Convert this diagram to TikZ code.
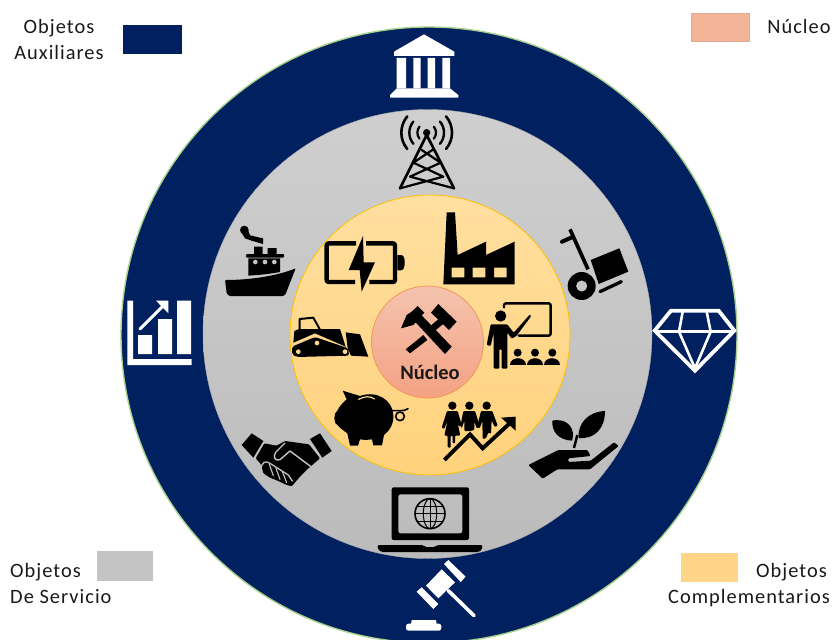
\documentclass[tikz,border=0pt]{standalone}
\usepackage{fontspec}
\setmainfont{Carlito}
\newfontfamily\legendfont[LetterSpace=5]{Carlito}
\definecolor{navyring}{HTML}{002060}
\definecolor{ringedge}{HTML}{A9D18E}
\definecolor{graytop}{HTML}{CFCFCF}
\definecolor{graybot}{HTML}{BBBBBB}
\definecolor{graymid}{HTML}{C4C4C4}
\definecolor{ambertop}{HTML}{FFDFA0}
\definecolor{amberbot}{HTML}{FFD27C}
\definecolor{ambermid}{HTML}{FFD88C}
\definecolor{amberedge}{HTML}{FFC000}
\definecolor{coretop}{HTML}{F4C3AE}
\definecolor{corebot}{HTML}{F4A283}
\definecolor{coremid}{HTML}{F4B196}
\definecolor{coreedge}{HTML}{ED7D31}
\definecolor{swpeach}{HTML}{F4B498}
\definecolor{swgray}{HTML}{C4C4C4}
\definecolor{swamber}{HTML}{FFD587}
\tikzset{
  legendtext/.style={font=\legendfont\fontsize{20.4}{26}\selectfont,text=black!90,inner sep=0pt},
  zoomA/.style={shift={(280,190)},scale=1/3},
  zoomB/.style={shift={(120,20)},scale=1/3},
  zoomC/.style={shift={(500,210)},scale=1/3},
  zoomD/.style={shift={(220,420)},scale=1/3},
  zoomE/.style={shift={(110,210)},scale=1/3},
  zoomDozer/.style={shift={(285,305)},scale=1/3},
  zoomShake/.style={shift={(235,425)},scale=1/3},
  zoomCrowd/.style={shift={(435,395)},scale=1/3},
  zoomTools/.style={shift={(395,300)},scale=1/3},
  inkline/.style={draw=black,line cap=round,line join=round},
  paperline/.style={draw=white,line join=miter},
}
\begin{document}
\begin{tikzpicture}[x=1pt,y=-1pt]
\useasboundingbox (0,0) rectangle (834,639);
% rings
\draw[draw=ringedge,fill=navyring,line width=1.4pt] (429,335) circle[radius=308];
\shade[top color=graytop,bottom color=graybot] (427.5,334) circle[radius=224.5];
\draw[draw=gray!70,line width=0.4pt] (427.5,334) circle[radius=224.5];
\draw[draw=amberedge,line width=0.8pt,top color=ambertop,bottom color=amberbot] (430,335) circle[radius=140];
\draw[draw=coreedge!80,line width=0.8pt,top color=coretop,bottom color=corebot] (427.5,342) circle[radius=56];
% legend swatches
\fill[navyring] (123,25) rectangle (182,54);
\draw[draw=swpeach!90!black!90,line width=0.4pt,fill=swpeach] (691,13) rectangle (749,41);
\fill[swgray] (97,551) rectangle (153,581);
\fill[swamber] (681,553) rectangle (738,582);
% legend text
\node[legendtext,align=center,anchor=north] (legaux) at (59,19) {Objetos\\Auxiliares};
\node[legendtext,anchor=north] (legnuc) at (799,19) {Núcleo};
\node[legendtext,align=left,anchor=north west] (legserv) at (10,563) {Objetos\\De Servicio};
\node[legendtext,align=right,anchor=north east] (legcomp) at (830,563) {Objetos\hspace*{3pt}\\Complementarios};
\node[font=\bfseries\fontsize{20.5}{22}\selectfont,text=black!90,inner sep=0pt] (coretext) at (430,372) {Núcleo};
% ---------- inner icons
\begin{scope}[zoomA]
 % battery
 \draw[inkline,line width=4.4pt,line cap=butt,rounded corners=2pt] (228,160)--(140,160)--(140,276)--(225,276);
 \draw[inkline,line width=4.4pt,line cap=butt,rounded corners=2pt] (258,160)--(345,160)--(345,276)--(268,276);
 \fill[black] (352,195)--(362,195) .. controls (372,195) and (374,205) .. (374,217) .. controls (374,230) and (372,241) .. (362,241) -- (352,241)--cycle;
 \fill[black] (249,138)--(206,240)--(239,240)--(245,305)--(285,217)--(251,217)--cycle;
 % factory
 \fill[black,even odd rule] (500,67)--(525,67)--(533,195)--(618,155)--(618,195)--(704,155)--(704,283)--(490,283)--cycle
   (515,233) rectangle (553,262) (578,233) rectangle (616,262) (642,233) rectangle (680,262);
 % teacher
 \draw[inkline,line width=2.4pt,rounded corners=2pt] (672,352)--(672,340)--(812,340)--(812,437)--(716,437);
 \fill[black] (662,378) circle[radius=17];
 \fill[black,rounded corners=1pt] (632,403)--(682,403)--(701,428)--(750,373)--(754,378)--(709,438)--(695,446)--(682,428)--(682,536)--(665,536)--(665,478)--(658,478)--(658,536)--(641,536)--(641,428)--(632,468)--(620,465)--cycle;
 \foreach \hx in {713,765,817}{
  \fill[black] (\hx,488) circle[radius=12];
  \fill[black] (\hx-24,526) .. controls (\hx-24,498) and (\hx+24,498) .. (\hx+24,526) -- cycle;
 }
 % piggy bank
 \fill[black] (188,602)--(240,618) .. controls (290,600) and (338,630) .. (340,675) .. controls (342,705) and (325,725) .. (312,735) -- (306,766)--(280,766)--(276,748) .. controls (262,750) and (250,750) .. (240,748) -- (234,767)--(210,767)--(202,730) .. controls (188,720) and (178,712) .. (172,705) .. controls (160,702) and (160,668) .. (172,662) .. controls (178,648) and (192,635) .. (200,628) -- cycle;
 \draw[draw=ambermid,line width=1.2pt,line cap=round] (236,628) .. controls (255,618) and (270,618) .. (284,627);
 \draw[inkline,line width=1.6pt] (335,662)--(360,662) .. controls (372,662) and (378,660) .. (384,656);
 \draw[inkline,line width=1.6pt] (360,679) circle[radius=13];
\end{scope}
% hammers
\begin{scope}[zoomTools]
 \fill[black] (32,148)--(45,160)--(97,120)--(85,105)--cycle;
 \fill[black] (106,78)--(120,92)--(147,70)--(132,56)--cycle;
 \fill[black] (60,65)--(80,46)--(170,140)--(150,162)--cycle;
 \fill[black] (18,85)--(35,45)--(50,35)--(68,18)--(88,38)--(55,75)--cycle;
 \fill[black] (108,38)--(130,12)--(185,65)--(162,90)--cycle;
\end{scope}
% bulldozer
\begin{scope}[zoomDozer]
 \fill[black] (28,78)--(42,72)--(165,72)--(182,125)--(90,85)--(25,113)--cycle;
 \draw[inkline,line width=2pt] (44,74)--(44,42)--(85,38)--(105,74);
 \fill[black] (182,82)--(225,88)--(250,155)--(198,152)--(188,130)--cycle;
 \fill[black,rounded corners=2pt] (21,125)--(90,96)--(190,130)--(192,152)--(35,156)--(21,148)--cycle;
 \fill[ambermid] (40,140) circle[radius=7] (96,114) circle[radius=7] (180,140) circle[radius=7];
\end{scope}
% people
\begin{scope}[zoomCrowd]
 \fill[black] (52,32) circle[radius=12.5] (103,32) circle[radius=12.5] (155,32) circle[radius=12.5];
 \fill[black,rounded corners=1pt] (36,48)--(68,48)--(80,90)--(72,95)--(66,75)--(76,122)--(60,122)--(60,145)--(53,145)--(53,122)--(47,122)--(47,158)--(38,158)--(38,122)--(28,122)--(38,75)--(28,102)--(20,98)--cycle;
 \fill[black,rounded corners=1pt] (85,48)--(120,48)--(135,95)--(125,100)--(118,80)--(118,105)--(105,108)--(88,108)--(88,78)--(80,100)--(76,95)--cycle;
 \fill[black,rounded corners=1pt] (138,48)--(172,48)--(188,92)--(179,96)--(170,76)--(168,117)--(160,112)--(153,130)--(143,132)--(142,78)--(134,100)--(126,96)--cycle;
 \draw[draw=black,line width=3.9pt,line join=miter] (28,195)--(105,118)--(143,160)--(222,87);
 \fill[black] (198,68)--(242,65)--(242,107)--cycle;
\end{scope}
% ---------- top icons
\begin{scope}[zoomB]
 \fill[white] (912,43)--(822,95)--(822,108)--(1003,108)--(1003,95)--cycle;
 \fill[white] (830,114) rectangle (858,205) (880,114) rectangle (902,205) (923,114) rectangle (945,205) (967,114) rectangle (990,205);
 \fill[white] (830,205)--(990,205)--(1015,225)--(1015,233)--(810,233)--(810,225)--cycle;
 % tower
 \fill[black] (920,338) circle[radius=11];
 \draw[inkline,line width=2.7pt] (840,505)--(920,345)--(1002,505);
 \draw[inkline,line width=2.2pt] (905,390)--(962,428)--(870,470)--(1002,505) (937,390)--(880,428)--(970,470)--(840,505);
 \foreach \rr/\lw in {28/2.2,52/2.4,76/2.6}{
  \draw[inkline,line width=\lw pt] (920,338) ++(140:\rr) arc (140:220:\rr);
  \draw[inkline,line width=\lw pt] (920,338) ++(-40:\rr) arc (-40:40:\rr);
 }
\end{scope}
% ---------- right icons
\begin{scope}[zoomC]
 % trolley
 \draw[inkline,line width=4pt] (186,95)--(216,82);
 \draw[inkline,line width=3.7pt,line cap=butt] (210,58)--(264,178);
 \fill[black] (272,150)--(358,115)--(385,185)--(296,222)--cycle;
 \fill[black,even odd rule] (245,228) circle[radius=42] (245,228) circle[radius=17];
 \draw[inkline,line width=3.3pt] (300,245)--(364,215);
 % diamond
 \draw[paperline,line width=3.8pt] (513,302)--(656,302)--(703,362)--(585,482)--(464,362)--cycle;
 \draw[paperline,line width=2.6pt] (464,365)--(703,365);
 \draw[paperline,line width=2.6pt] (548,305)--(537,365)--(585,475)--(632,365)--(620,305);
 % hand and plant
 \fill[black,rounded corners=1pt] (85,765)--(175,720)--(262,720)--(272,738)--(205,745)--(205,756)--(272,752)--(342,697)--(356,708)--(270,778)--(172,778)--(128,806)--cycle;
 \fill[black] (157,632) .. controls (205,622) and (228,660) .. (216,692) .. controls (175,690) and (155,665) .. cycle;
 \fill[black] (315,603) .. controls (265,605) and (232,640) .. (236,684) .. controls (285,688) and (315,655) .. cycle;
 \draw[inkline,line width=2.5pt,line cap=butt] (232,675)--(222,714);
\end{scope}
% handshake
\begin{scope}[zoomShake]
 \fill[black] (20,60)--(50,25)--(85,48)--(55,98)--cycle;
 \fill[black] (225,42)--(255,25)--(290,78)--(262,98)--cycle;
 \fill[black,rounded corners=1pt] (62,100)--(88,55)--(125,62)--(150,48)--(222,58)--(255,100)--(220,130)--(195,155)--(170,184)--(150,178)--(130,168)--(105,158)--(85,145)--(78,118)--cycle;
 \draw[draw=graymid,line width=1.4pt,line join=round,line cap=round] (228,125)--(165,78)--(135,104) .. controls (122,110) and (112,96) .. (122,82)--(150,54);
 \draw[draw=graymid,line width=1.3pt,line cap=round,line join=round] (78,135) .. controls (78,112) and (92,105) .. (105,115)--(160,150)--(172,168);
 \draw[draw=graymid,line width=1.1pt,line cap=round] (103,118)--(115,152) (123,130)--(135,163) (143,142)--(155,173);
\end{scope}
% ---------- bottom icons
\begin{scope}[zoomD]
 % laptop
 \fill[black,even odd rule,rounded corners=2pt] (515,202) rectangle (747,360) (535,223) rectangle (727,340);
 \fill[black,rounded corners=1.5pt] (472,375)--(610,375)--(615,381)--(645,381)--(652,375)--(788,375)--(785,390)--(775,396)--(485,396)--(475,390)--cycle;
 \draw[draw=black,line width=1.6pt] (630,281) circle[radius=45];
 \draw[draw=black,line width=1pt] (630,281) ellipse[x radius=20,y radius=45];
 \draw[draw=black,line width=1pt] (630,236)--(630,326) (585,281)--(675,281) (592,258)--(668,258) (592,304)--(668,304);
 % gavel
 \fill[white] (618,497)--(665,448)--(705,487)--(655,535)--cycle;
 \fill[white] (672,432)--(685,420)--(737,470)--(722,486)--cycle;
 \fill[white] (590,515)--(605,502)--(655,552)--(640,567)--cycle;
 \draw[draw=white,line width=3.6pt,line cap=round] (685,512)--(762,587);
 \fill[white] (575,600)--(648,600)--(650,614)--(573,614)--cycle;
 \fill[white,rounded corners=2.5pt] (558,611) rectangle (664,632);
\end{scope}
% ---------- left icons
\begin{scope}[zoomE]
 % chart
 \fill[white] (52,272)--(69,272)--(69,447)--(245,447)--(245,465)--(52,465)--cycle;
 \fill[white] (84,375) rectangle (126,432) (144,327) rectangle (186,432) (201,272) rectangle (243,432);
 \draw[draw=white,line width=2.9pt,line cap=round] (90,357)--(160,287);
 \fill[white] (138,272)--(175,272)--(175,310)--cycle;
 % ship
 \fill[black,rounded corners=1pt] (345,210) .. controls (420,210) and (500,198) .. (557,175) -- (526,254)--(520,258)--(358,258)--(350,250)--cycle;
 \fill[black] (415,145)--(510,145)--(510,186) .. controls (480,192) and (445,195) .. (415,197)--cycle;
 \fill[black,rounded corners=1pt] (408,132) rectangle (522,143);
 \fill[black] (432,110) rectangle (458,132) (473,114) rectangle (500,132);
 \fill[graymid] (436,156) circle[radius=7] (465,156) circle[radius=7] (493,156) circle[radius=7];
 \fill[black] (403,60) circle[radius=13];
 \fill[black] (396,70)--(412,55)--(420,76)--(459,85)--(459,102)--(425,92)--(405,85)--cycle;
\end{scope}
\end{tikzpicture}
\end{document}
